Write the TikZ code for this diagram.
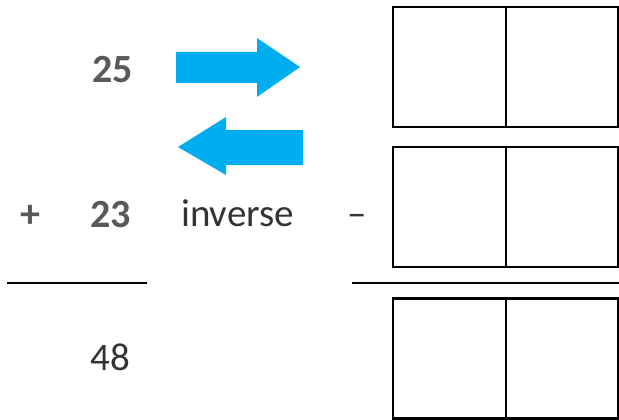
\documentclass[tikz,border=0pt]{standalone}
\usepackage{fontspec}
\setmainfont{Carlito}
\definecolor{numgray}{HTML}{595959}
\definecolor{arrowblue}{HTML}{00AEEF}
\definecolor{textdark}{HTML}{333333}
\tikzset{
  num/.style={font=\fontsize{40}{48}\selectfont\bfseries, text=numgray, inner sep=0pt},
  plain/.style={font=\fontsize{39}{46}\selectfont, text=textdark, inner sep=0pt},
  cell/.style={draw=black, line width=2.5pt, inner sep=0pt, minimum height=120pt},
  rule/.style={line width=2pt, black},
}
\begin{document}
\begin{tikzpicture}[x=1pt,y=-1pt]
\useasboundingbox (0,0) rectangle (619,420);
% left column: the sum
\node[num, anchor=base east] (top) at (133,82) {25};
\node[num, anchor=base] (plus) at (30,227) {+};
\node[num, anchor=base east] (mid) at (131,227) {23};
\draw[rule] (7,283) -- (147,283);
\node[plain, anchor=base east] (sum) at (130,370) {48};
% arrows
\fill[arrowblue] (176,52) -- (257,52) -- (257,38) -- (300,67) -- (257,97) -- (257,83) -- (176,83) -- cycle;
\fill[arrowblue] (303,130) -- (226,130) -- (226,117) -- (178,147) -- (226,175) -- (226,165) -- (303,165) -- cycle;
\node[plain, anchor=base west] (inv) at (181,226) {inverse};
% right column: empty boxes
\node[cell, minimum width=113pt] (a1) at (449.5,67) {};
\node[cell, minimum width=112pt] (a2) at (562,67) {};
\node[plain, anchor=base] (minus) at (357,226) {–};
\node[cell, minimum width=113pt] (b1) at (449.5,207) {};
\node[cell, minimum width=112pt] (b2) at (562,207) {};
\draw[rule] (352,283) -- (619,283);
\node[cell, minimum width=113pt] (c1) at (449.5,358.5) {};
\node[cell, minimum width=112pt] (c2) at (562,358.5) {};
\end{tikzpicture}
\end{document}
